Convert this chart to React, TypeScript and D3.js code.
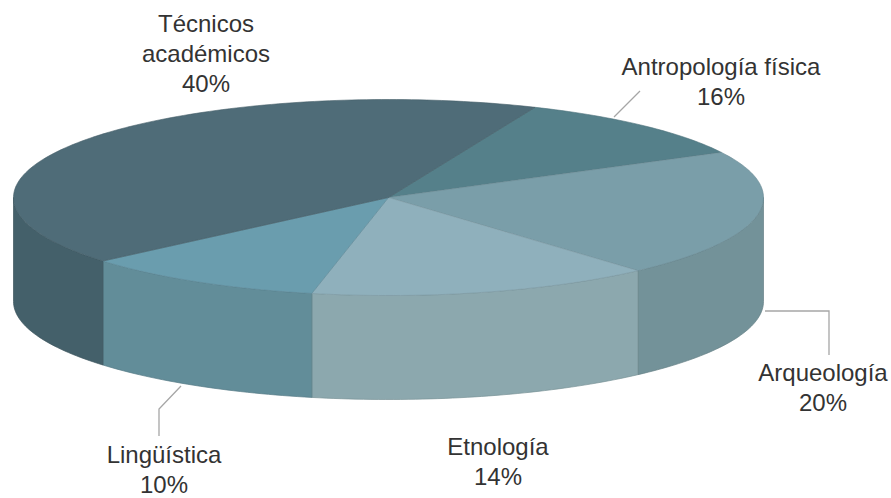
import * as d3 from "d3";

// order runs clockwise from the Antropología / Técnicos edge at the back
const categories = ["Antropología física", "Arqueología", "Etnología", "Lingüística", "Técnicos académicos"];
const percents = [16, 20, 14, 10, 40];
// sweep of each slice as drawn, in degrees: the perspective of the picture squeezes the back ones
const drawnSweep = [39.6, 75.7, 53.5, 37.8, 153.4];

const topColors = ["#55808a", "#7a9ea9", "#8fb0bc", "#6a9dae", "#4f6c78"];
const wallColors = ["#55808a", "#739299", "#8ca8ae", "#628d99", "#44606a"];

const width = 891;
const height = 498;
const cx = 388.5;
const cy = 197.5;
const rx = 375;
const ry = 98;
const depth = 104;
const startDeg = 23;

// where each label block sits, in the same order as categories
const labelPos = [
    {x: 721, y: 74.5, lines: ["Antropología física"]},
    {x: 823, y: 381, lines: ["Arqueología"]},
    {x: 498, y: 455, lines: ["Etnología"]},
    {x: 164, y: 462.5, lines: ["Lingüística"]},
    {x: 206, y: 32, lines: ["Técnicos", "académicos"]},
];
const leaders: [number, number][][] = [
    [[614, 117], [640, 91]],
    [[765, 311], [829, 311], [829, 355]],
    [[181, 386], [159, 409], [159, 436]],
];

const px = (a: number) => cx + rx * Math.sin(a);
const py = (a: number) => cy - ry * Math.cos(a);

const pie = d3.pie<number>()
    .sort(null)
    .startAngle((startDeg * Math.PI) / 180)
    .endAngle((startDeg * Math.PI) / 180 + 2 * Math.PI);

const line = d3.line();

function sample(a0: number, a1: number): number[] {
    const n = Math.max(2, Math.ceil(Math.abs(a1 - a0) / 0.02));
    return d3.range(n + 1).map((i) => a0 + ((a1 - a0) * i) / n);
}

function topPath(a0: number, a1: number) {
    const pts = sample(a0, a1).map((a) => [px(a), py(a)] as [number, number]);
    return line([[cx, cy], ...pts]) + "Z";
}

// only the part of a slice between 90 and 270 degrees shows a wall
function wallPath(a0: number, a1: number) {
    const lo = Math.max(a0, Math.PI / 2);
    const hi = Math.min(a1, (3 * Math.PI) / 2);
    if (hi <= lo) return null;
    const upper = sample(lo, hi).map((a) => [px(a), py(a)] as [number, number]);
    const lower = sample(hi, lo).map((a) => [px(a), py(a) + depth] as [number, number]);
    return line([...upper, ...lower]) + "Z";
}

const edge = (c: string) => d3.color(c)!.darker(0.4).formatHex();

export default function App() {
    const arcs = pie(drawnSweep);

    return (
        <svg
            width={width}
            height={height}
            viewBox={`0 0 ${width} ${height}`}
            style={{position: "absolute", left: 0, top: 0, background: "#fff"}}
            fontFamily="'Liberation Sans', Arial, sans-serif"
            fontSize={24}
            fill="#333"
        >
            {leaders.map((l, i) => (
                <path key={i} d={line(l) ?? ""} fill="none" stroke="#a6a6a6" strokeWidth={1.3} />
            ))}

            {arcs.map((d, i) => {
                const w = wallPath(d.startAngle, d.endAngle);
                return w ? <path key={i} d={w} fill={wallColors[i]} stroke={edge(wallColors[i])} strokeWidth={0.7} /> : null;
            })}
            {arcs.map((d, i) => (
                <path
                    key={i}
                    d={topPath(d.startAngle, d.endAngle)}
                    fill={topColors[i]}
                    stroke={edge(topColors[i])}
                    strokeWidth={0.6}
                />
            ))}

            {categories.map((c, i) => {
                const p = labelPos[i];
                return (
                    <text key={c} textAnchor="middle" x={p.x} y={p.y}>
                        {p.lines.map((t, j) => (
                            <tspan key={j} x={p.x} dy={j === 0 ? 0 : 30}>{t}</tspan>
                        ))}
                        <tspan x={p.x} dy={30}>{percents[i]}%</tspan>
                    </text>
                );
            })}
        </svg>
    );
}
